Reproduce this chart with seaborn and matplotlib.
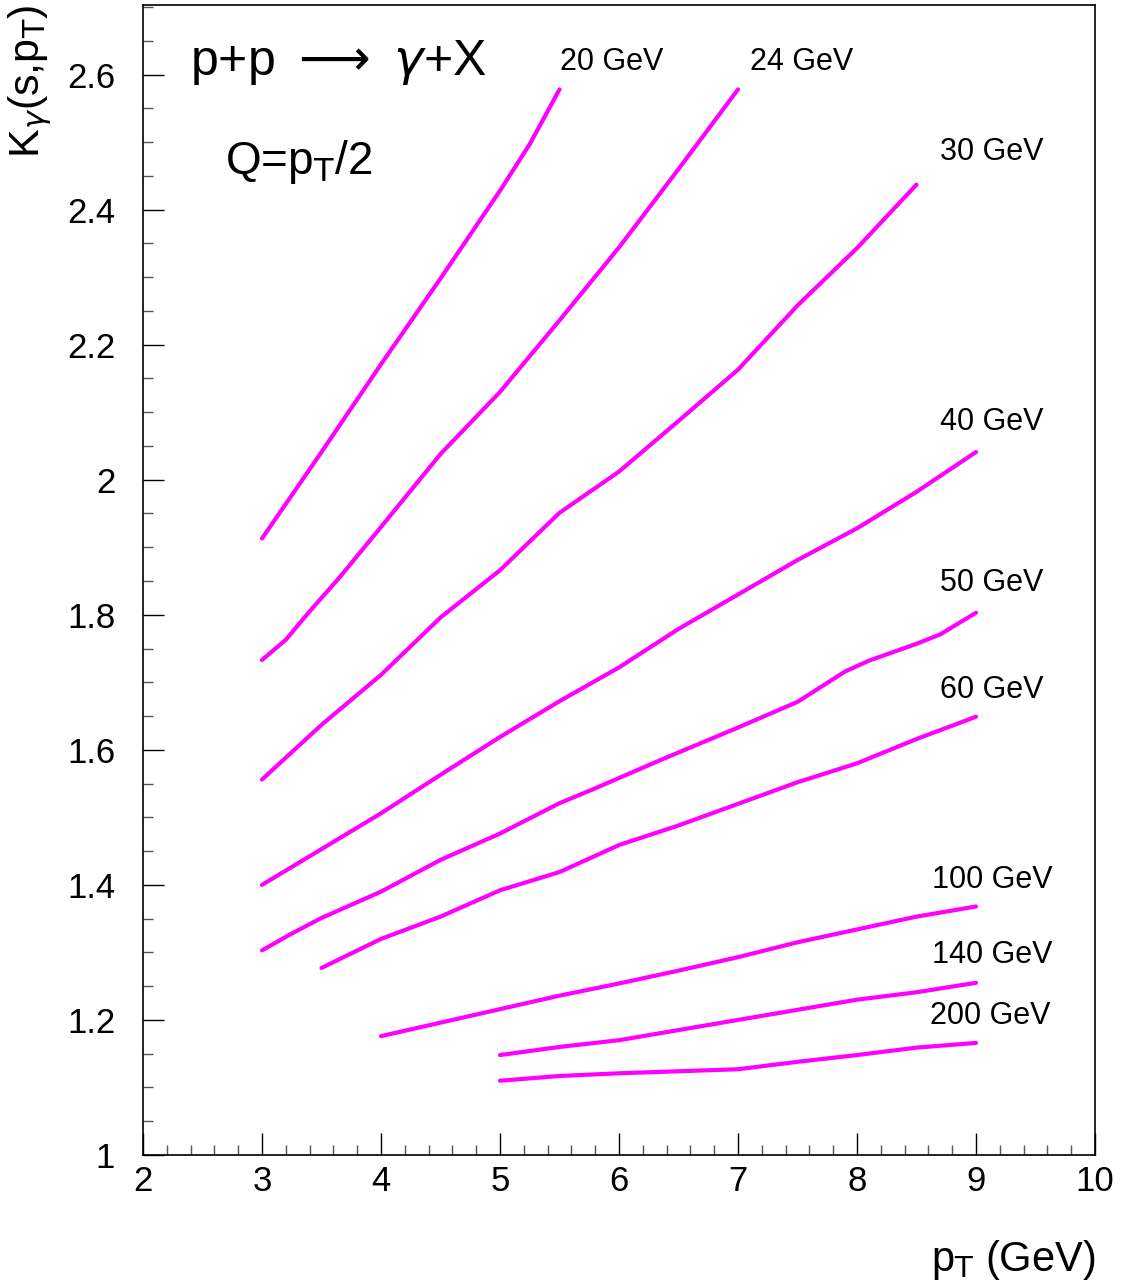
import matplotlib
matplotlib.use("Agg")
import matplotlib.pyplot as plt
from matplotlib.ticker import MultipleLocator
import seaborn as sns
import pandas as pd

# ---- data ----
pt_20 = [3.0, 3.5, 4.0, 4.5, 5.0, 5.25, 5.5]
k_20 = [1.913, 2.041, 2.171, 2.298, 2.428, 2.497, 2.578]

pt_24 = [3.0, 3.2, 3.4, 3.65, 4.0, 4.5, 5.0, 5.5, 6.0, 6.5, 7.0]
k_24 = [1.733, 1.763, 1.805, 1.855, 1.930, 2.038, 2.130, 2.236, 2.344, 2.460, 2.578]

pt_30 = [3.0, 3.5, 4.0, 4.5, 5.0, 5.5, 6.0, 6.5, 7.0, 7.5, 8.0, 8.5]
k_30 = [1.556, 1.637, 1.711, 1.796, 1.866, 1.951, 2.012, 2.087, 2.163, 2.258, 2.343, 2.437]

pt_40 = [3.0, 3.5, 4.0, 4.5, 5.0, 5.5, 6.0, 6.5, 7.0, 7.5, 8.0, 8.5, 9.0]
k_40 = [1.400, 1.453, 1.506, 1.563, 1.619, 1.672, 1.722, 1.779, 1.830, 1.881, 1.928, 1.982, 2.041]

pt_50 = [3.0, 3.24, 3.5, 4.0, 4.5, 5.0, 5.5, 5.8, 6.35, 7.0, 7.5, 7.9, 8.1, 8.5, 8.7, 9.0]
k_50 = [1.303, 1.327, 1.351, 1.390, 1.437, 1.476, 1.521, 1.543, 1.585, 1.633, 1.671, 1.716, 1.732, 1.757, 1.771, 1.803]

pt_60 = [3.5, 4.0, 4.5, 5.0, 5.5, 6.0, 6.5, 7.0, 7.5, 8.0, 8.5, 9.0]
k_60 = [1.277, 1.320, 1.353, 1.392, 1.419, 1.459, 1.488, 1.520, 1.552, 1.580, 1.616, 1.649]

pt_100 = [4.0, 4.5, 5.0, 5.5, 6.0, 6.5, 7.0, 7.5, 8.0, 8.5, 9.0]
k_100 = [1.176, 1.196, 1.216, 1.236, 1.254, 1.273, 1.293, 1.315, 1.334, 1.353, 1.368]

pt_140 = [5.0, 5.5, 6.0, 6.5, 7.0, 7.5, 8.0, 8.5, 9.0]
k_140 = [1.148, 1.160, 1.170, 1.185, 1.200, 1.215, 1.230, 1.241, 1.255]

pt_200 = [5.0, 5.5, 6.0, 6.5, 7.0, 7.5, 8.0, 8.5, 9.0]
k_200 = [1.110, 1.117, 1.121, 1.124, 1.127, 1.138, 1.148, 1.159, 1.166]

energies = ["20 GeV", "24 GeV", "30 GeV", "40 GeV", "50 GeV", "60 GeV",
            "100 GeV", "140 GeV", "200 GeV"]
series_pt = [pt_20, pt_24, pt_30, pt_40, pt_50, pt_60, pt_100, pt_140, pt_200]
series_k = [k_20, k_24, k_30, k_40, k_50, k_60, k_100, k_140, k_200]

# label anchor positions (data coords, left edge / vertical center)
label_x = [5.50, 7.10, 8.70, 8.70, 8.70, 8.70, 8.63, 8.63, 8.61]
label_y = [2.618, 2.618, 2.486, 2.086, 1.847, 1.689, 1.407, 1.296, 1.206]

rows = []
for e, xs, ys in zip(energies, series_pt, series_k):
    for i, (x, y) in enumerate(zip(xs, ys)):
        rows.append({"energy": e, "pt": x, "K": y, "order": i})
df = pd.DataFrame(rows)

sns.set_style("white")
plt.rcParams["font.family"] = ["Liberation Sans", "DejaVu Sans"]
plt.rcParams["mathtext.fontset"] = "dejavusans"
plt.rcParams["text.color"] = "black"
plt.rcParams["axes.labelcolor"] = "black"

fig = plt.figure(figsize=(11.23, 12.87), dpi=100)
ax = fig.add_axes([143 / 1123, 1 - 1155 / 1287, (1095 - 143) / 1123, (1155 - 5) / 1287])

magenta = "#ff00ff"
sns.lineplot(data=df, x="pt", y="K", hue="energy", units="energy",
             estimator=None, sort=False, palette={e: magenta for e in energies},
             linewidth=3.0, legend=False, ax=ax)

ax.set_xlim(2, 10)
ax.set_ylim(1, 2.703)

ax.xaxis.set_major_locator(MultipleLocator(1))
ax.xaxis.set_minor_locator(MultipleLocator(0.2))
ax.yaxis.set_minor_locator(MultipleLocator(0.05))
ax.set_yticks([1, 1.2, 1.4, 1.6, 1.8, 2.0, 2.2, 2.4, 2.6])
ax.set_yticklabels(["1", "1.2", "1.4", "1.6", "1.8", "2", "2.2", "2.4", "2.6"])

ax.tick_params(axis="both", which="both", direction="in", colors="black",
               top=False, right=False, bottom=True, left=True, width=1.0)
ax.tick_params(axis="x", which="major", length=16, labelsize=25, pad=7)
ax.tick_params(axis="x", which="minor", length=7.5, color="#555555")
ax.tick_params(axis="y", which="major", length=15, labelsize=25, pad=20)
ax.tick_params(axis="y", which="minor", length=7.5, color="#555555")

for sp in ax.spines.values():
    sp.set_visible(True)
    sp.set_color("black")
    sp.set_linewidth(1.2)

ax.set_xlabel(r"p$_{\mathrm{T}}$ (GeV)", fontsize=30, ha="right", va="center")
ax.xaxis.set_label_coords(1.0, -0.0913)
ax.set_ylabel(r"K$_{\gamma}$(s,p$_{\mathrm{T}}$)", fontsize=31, ha="right", va="center")
ax.yaxis.set_label_coords(-0.119, 1.0)

ax.text(2.395, 2.618, r"p+p $\longrightarrow$ $\gamma$+X", fontsize=36,
        ha="left", va="center")
ax.text(2.69, 2.470, r"Q=p$_{\mathrm{T}}$/2", fontsize=33, ha="left", va="center")

for e, lx, ly in zip(energies, label_x, label_y):
    ax.text(lx, ly, e, fontsize=22, ha="left", va="center")

fig.savefig("out.png", dpi=100, facecolor="white")
